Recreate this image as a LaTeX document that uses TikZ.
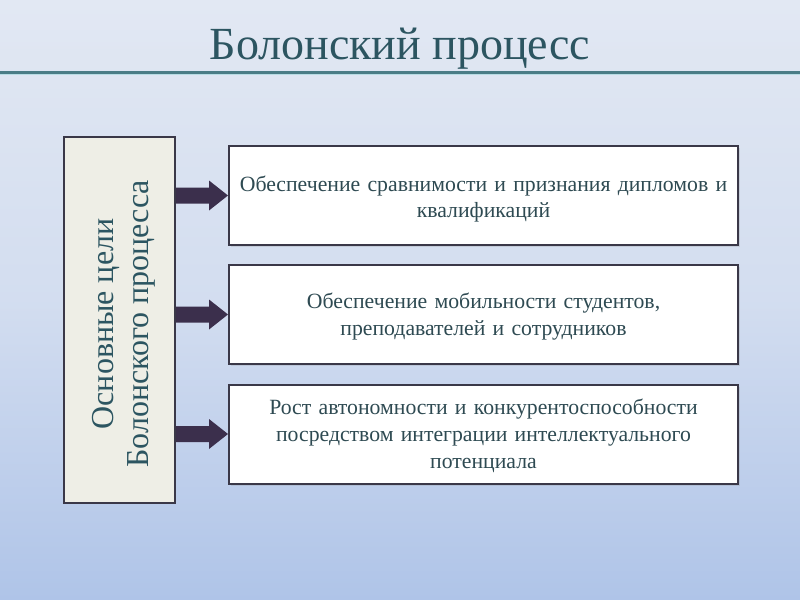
\documentclass[tikz,border=0pt]{standalone}
\usepackage{fontspec}
\setmainfont{Liberation Serif}
\usetikzlibrary{calc,shadows}
\definecolor{bgtop}{HTML}{E2E8F3}
\definecolor{bgbot}{HTML}{AFC4E8}
\definecolor{titlecol}{HTML}{2C5561}
\definecolor{rulecol}{HTML}{4A7C86}
\definecolor{rulelight}{HTML}{B8DCE4}
\definecolor{goalfill}{HTML}{EEEEE6}
\definecolor{boxline}{HTML}{3A3848}
\definecolor{textcol}{HTML}{2E4A52}
\definecolor{arrowcol}{HTML}{3B2F4C}
\tikzset{
  titletext/.style={text=titlecol, font=\rmfamily\fontsize{34.5}{40}\selectfont, inner sep=0pt},
  goalbox/.style={draw=boxline, line width=1.5pt, fill=goalfill, minimum width=83.25pt, minimum height=274.5pt, inner sep=0pt},
  goaltext/.style={text=titlecol, font=\rmfamily\fontsize{24}{26.5}\selectfont, align=center, rotate=90, inner sep=0pt},
  aimbox/.style={draw=boxline, line width=1.5pt, fill=white, minimum width=381.75pt, minimum height=74.25pt, inner sep=0pt,
    drop shadow={shadow xshift=1.5pt, shadow yshift=-1.5pt, opacity=0.2}},
  aimtext/.style={text width=376pt, align=center, text=textcol, font=\rmfamily\fontsize{16.3}{20.2}\selectfont, inner sep=0pt},
  fatarrow/.style={fill=arrowcol}
}
\begin{document}
\begin{tikzpicture}[x=0.75pt,y=-0.75pt]
\useasboundingbox (0,0) rectangle (800,600);
\shade[top color=bgtop, bottom color=bgbot, middle color=bgtop!70!bgbot] (0,0) rectangle (800,600);
\node[titletext] (title) at (400,49) {Болонский процесс};
\draw[rulecol, line width=2.25pt] (0,72) -- (800,72);
\draw[rulelight, line width=0.75pt] (0,74.5) -- (800,74.5);

\node[goalbox] (goals) at (119.5,320) {};
\node[goaltext] (goalstext) at (124,324) {Основные цели\\Болонского процесса};

\node[aimbox] (r1) at (483.5,195.5) {};
\node[aimbox] (r2) at (483.5,314.5) {};
\node[aimbox] (r3) at (483.5,434) {};
\node[aimtext] (t1) at ($(r1.center)+(0,3.5)$) {Обеспечение сравнимости и признания дипломов и\\квалификаций};
\node[aimtext] (t2) at ($(r2.center)+(0,2.5)$) {Обеспечение мобильности студентов,\\преподавателей и сотрудников};
\node[aimtext] (t3) at ($(r3.center)+(0,2)$) {Рост автономности и конкурентоспособности\\посредством интеграции интеллектуального\\потенциала};

\foreach \r in {r1,r2,r3}{
  \fill[fatarrow] ($(goals.east |- \r.west)+(0,-8)$) -- ($(\r.west)+(-19,-8)$) -- ($(\r.west)+(-19,-15)$)
    -- (\r.west) -- ($(\r.west)+(-19,15)$) -- ($(\r.west)+(-19,8)$) -- ($(goals.east |- \r.west)+(0,8)$) -- cycle;
}
\end{tikzpicture}
\end{document}
